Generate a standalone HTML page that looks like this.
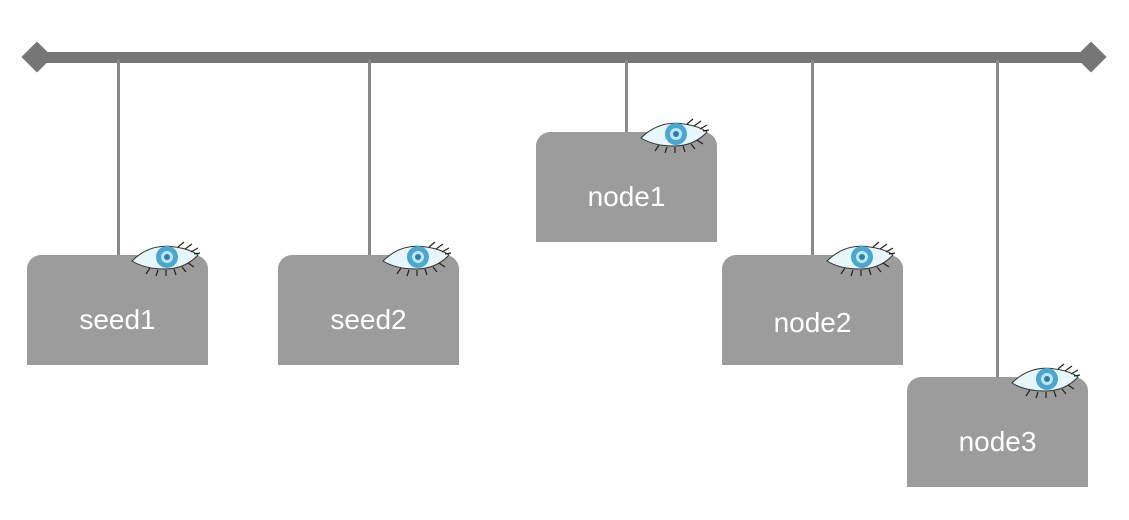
<!DOCTYPE html>
<html><head><style>
body{margin:0;background:#fff;width:1129px;height:520px;overflow:hidden;position:relative;font-family:"Liberation Sans",sans-serif}
.bar{position:absolute;left:40px;top:52px;width:1050px;height:11px;background:#767676}
.d{position:absolute;width:22px;height:22px;background:#767676;transform:rotate(45deg)}
.v{position:absolute;width:3px;background:#888}
.box{position:absolute;width:181px;height:110px;background:#9c9c9c;border-radius:14px 14px 0 0;color:#fff;font-size:28px;text-align:center;line-height:130px}
.eye{position:absolute;right:6px;top:-14px}
</style></head><body>
<div class="bar"></div>
<div class="d" style="left:26px;top:46px"></div>
<div class="d" style="left:1080px;top:46px"></div>
<div class="v" style="left:117px;top:60px;height:196px"></div>
<div class="v" style="left:368px;top:60px;height:196px"></div>
<div class="v" style="left:625px;top:60px;height:73px"></div>
<div class="v" style="left:811px;top:60px;height:196px"></div>
<div class="v" style="left:996px;top:60px;height:318px"></div>
<svg width="0" height="0" style="position:absolute"><defs><g id="eye">
<path d="M2 20 Q20 2 45 6 Q60 8 68 14 Q55 28 35 28 Q15 28 2 20Z" fill="#e6f6fb" stroke="#333" stroke-width="1"/>
<circle cx="37" cy="16" r="11" fill="#4aa7cf"/><circle cx="37" cy="16" r="6" fill="#bfe6f5"/><circle cx="37" cy="16" r="3" fill="#2a7fa6"/>
<path d="M20 27 L16 33 M28 29 L26 35 M36 29 L36 35 M44 28 L46 34 M52 26 L56 31 M58 22 L64 26 M48 6 L54 1 M55 8 L62 3 M61 11 L68 7 M64 13 L70 12" stroke="#222" stroke-width="1.2"/>
</g></defs></svg>
<div class="box" style="left:27px;top:255px">seed1<svg class="eye" width="72" height="36"><use href="#eye"/></svg></div>
<div class="box" style="left:278px;top:255px">seed2<svg class="eye" width="72" height="36"><use href="#eye"/></svg></div>
<div class="box" style="left:536px;top:132px">node1<svg class="eye" width="72" height="36"><use href="#eye"/></svg></div>
<div class="box" style="left:722px;top:255px;line-height:136px">node2<svg class="eye" width="72" height="36"><use href="#eye"/></svg></div>
<div class="box" style="left:907px;top:377px">node3<svg class="eye" width="72" height="36"><use href="#eye"/></svg></div>
</body></html>
